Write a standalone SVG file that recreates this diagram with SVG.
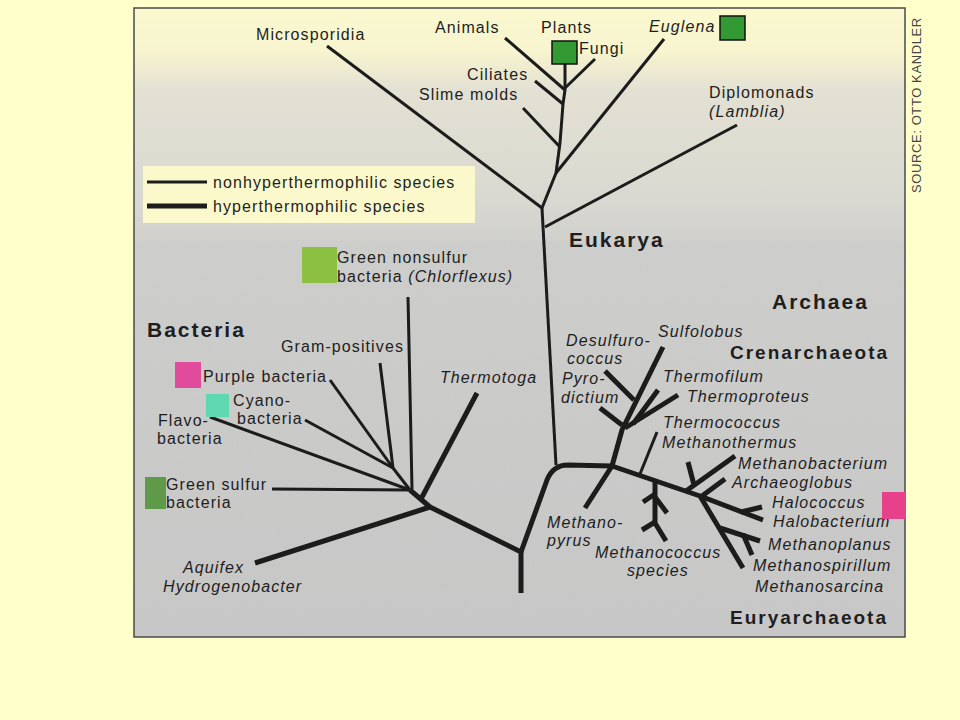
<svg xmlns="http://www.w3.org/2000/svg" width="960" height="720" viewBox="0 0 960 720">
<style>
.t{font-family:"Liberation Sans",Arial,Helvetica,sans-serif;font-size:16px;letter-spacing:1.1px;fill:#1e1e1e}
.i{font-style:italic}
.b{font-weight:bold;font-size:21px;letter-spacing:2px}
.bs{font-size:19px}
.src{font-size:13px;letter-spacing:0.6px;fill:#444}
.thin{stroke:#1c1c1c;stroke-width:3;fill:none;stroke-linejoin:round}
.thick{stroke:#1c1c1c;stroke-width:5;fill:none;stroke-linejoin:round}
</style>
<defs>
<linearGradient id="bg" x1="0" y1="8" x2="0" y2="637" gradientUnits="userSpaceOnUse">
<stop offset="0" stop-color="#fbf9cf"/>
<stop offset="0.07" stop-color="#f7f4cf"/>
<stop offset="0.13" stop-color="#e3e1d3"/>
<stop offset="0.3" stop-color="#dad9d1"/>
<stop offset="0.38" stop-color="#cfcfcd"/>
<stop offset="1" stop-color="#c8c8c8"/>
</linearGradient>
<filter id="noise" x="0" y="0" width="100%" height="100%">
<feTurbulence type="fractalNoise" baseFrequency="0.9" numOctaves="2" seed="3"/>
<feColorMatrix type="matrix" values="0 0 0 0 0.5  0 0 0 0 0.5  0 0 0 0 0.5  0 0 0 0.5 0"/>
</filter>
</defs>
<rect x="0" y="0" width="960" height="720" fill="#ffffcc"/>
<rect x="134" y="8" width="771" height="629" fill="url(#bg)"/>
<rect x="134" y="240" width="771" height="397" filter="url(#noise)" opacity="0.35"/>
<rect x="143" y="166" width="332" height="57" fill="#fbf9cc"/>
<rect x="134" y="8" width="771" height="629" fill="none" stroke="#4a4a4a" stroke-width="1.5"/>
<text class="t src" transform="translate(921,193) rotate(-90)">SOURCE: OTTO KANDLER</text>

<g id="legend">
<line class="thin" x1="147" y1="182" x2="207" y2="182" stroke-width="2.5"/>
<text class="t" x="213" y="188">nonhyperthermophilic species</text>
<line class="thick" x1="147" y1="206" x2="207" y2="206"/>
<text class="t" x="213" y="212">hyperthermophilic species</text>
</g>

<g id="connectors">
<path class="thin" d="M556,465 L542,208"/>
<path class="thin" d="M542,208 L556,173 L560,143 L563,104 L565,90 L565,62"/>
<path class="thin" d="M327,46 L542,208"/>
<path class="thin" d="M737,125 L545,227"/>
<path class="thin" d="M664,39 L556,173"/>
<path class="thin" d="M523,108 L559,146"/>
<path class="thin" d="M535,81 L563,104"/>
<path class="thin" d="M505,38 L565,90"/>
<path class="thin" d="M595,59 L565,88"/>

<path class="thin" d="M408,297 L412,489"/>
<path class="thin" d="M380,363 L393,468"/>
<path class="thin" d="M330,380 L393,468"/>
<path class="thin" d="M305,420 L393,468"/>
<path class="thin" d="M210,417 L410,490"/>
<path class="thin" d="M393,468 L410,490"/>
<path class="thin" d="M272,489 L410,490"/>
<path class="thick" d="M410,490 L430,507"/>
<path class="thick" d="M477,393 L421,499"/>
<path class="thick" d="M255,563 L430,507"/>
<path class="thick" d="M430,507 L521,552 L521,593"/>
<path class="thick" d="M521,552 L547,480 Q553,465 568,465 L612,466"/>

<path class="thick" d="M612,466 L622,430 L663,347"/>
<path class="thick" d="M605,371 L634,400"/>
<path class="thick" d="M600,408 L622,425"/>
<path class="thick" d="M658,390 L633,424"/>
<path class="thick" d="M678,395 L625,428"/>
<path class="thick" d="M585,508 L612,466"/>
<path class="thin" d="M657,432 L640,474"/>
<path class="thick" d="M612,466 L700,496 L763,520"/>
<path class="thick" d="M741,512 L762,507"/>
<path class="thick" d="M735,456 L686,491"/>
<path class="thick" d="M688,462 L694,485"/>
<path class="thick" d="M725,479 L702,496"/>
<path class="thick" d="M655,481 L655,523 L666,541"/>
<path class="thick" d="M643,502 L655,494"/>
<path class="thick" d="M655,497 L667,513"/>
<path class="thick" d="M642,530 L655,522"/>
<path class="thick" d="M700,496 L743,568"/>
<path class="thick" d="M720,528 L760,541"/>
<path class="thick" d="M743,534 L752,555"/>
</g>

<g id="microsporidia"><text class="t" x="256" y="40">Microsporidia</text></g>
<g id="animals"><text class="t" x="435" y="33">Animals</text></g>
<g id="plants"><text class="t" x="541" y="33">Plants</text><rect x="552" y="41" width="25" height="23" fill="#339933" stroke="#111" stroke-width="1.5"/></g>
<g id="fungi"><text class="t" x="579" y="54">Fungi</text></g>
<g id="euglena"><text class="t i" x="649" y="32">Euglena</text><rect x="720" y="16" width="25" height="24" fill="#339933" stroke="#111" stroke-width="1.5"/></g>
<g id="ciliates"><text class="t" x="467" y="80">Ciliates</text></g>
<g id="slime-molds"><text class="t" x="419" y="100">Slime molds</text></g>
<g id="diplomonads"><text class="t" x="709" y="98">Diplomonads</text><text class="t i" x="709" y="117">(Lamblia)</text></g>
<g id="eukarya"><text class="t b" x="569" y="247">Eukarya</text></g>

<g id="green-nonsulfur"><rect x="302" y="247" width="35" height="36" fill="#8cc043"/><text class="t" x="337" y="263">Green nonsulfur</text><text class="t" x="337" y="282">bacteria <tspan class="i">(Chlorflexus)</tspan></text></g>
<g id="bacteria"><text class="t b" x="147" y="337">Bacteria</text></g>
<g id="gram-positives"><text class="t" x="281" y="352">Gram-positives</text></g>
<g id="purple-bacteria"><rect x="175" y="362" width="26" height="26" fill="#e04b9c"/><text class="t" x="203" y="382">Purple bacteria</text></g>
<g id="cyanobacteria"><rect x="206" y="394" width="23" height="23" fill="#5ed8b0"/><text class="t" x="233" y="406">Cyano-</text><text class="t" x="237" y="424">bacteria</text></g>
<g id="flavobacteria"><text class="t" x="158" y="426">Flavo-</text><text class="t" x="157" y="444">bacteria</text></g>
<g id="thermotoga"><text class="t i" x="440" y="383">Thermotoga</text></g>
<g id="green-sulfur"><rect x="145" y="477" width="21" height="32" fill="#5e9a48"/><text class="t" x="166" y="490">Green sulfur</text><text class="t" x="166" y="508">bacteria</text></g>
<g id="aquifex"><text class="t i" x="183" y="573">Aquifex</text><text class="t i" x="163" y="592">Hydrogenobacter</text></g>

<g id="archaea"><text class="t b" x="772" y="309">Archaea</text></g>
<g id="crenarchaeota"><text class="t b bs" x="730" y="359">Crenarchaeota</text></g>
<g id="sulfolobus"><text class="t i" x="658" y="337">Sulfolobus</text></g>
<g id="desulfurococcus"><text class="t i" x="566" y="346">Desulfuro-</text><text class="t i" x="567" y="364">coccus</text></g>
<g id="pyrodictium"><text class="t i" x="562" y="384">Pyro-</text><text class="t i" x="561" y="403">dictium</text></g>
<g id="thermofilum"><text class="t i" x="663" y="382">Thermofilum</text></g>
<g id="thermoproteus"><text class="t i" x="687" y="402">Thermoproteus</text></g>
<g id="thermococcus"><text class="t i" x="663" y="428">Thermococcus</text><text class="t i" x="662" y="448">Methanothermus</text></g>
<g id="methanobacterium"><text class="t i" x="738" y="469">Methanobacterium</text></g>
<g id="archaeoglobus"><text class="t i" x="732" y="488">Archaeoglobus</text></g>
<g id="halococcus"><text class="t i" x="772" y="508">Halococcus</text></g>
<g id="halobacterium"><text class="t i" x="773" y="527">Halobacterium</text><rect x="882" y="492" width="24" height="27" fill="#e6418a"/></g>
<g id="methanoplanus"><text class="t i" x="768" y="550">Methanoplanus</text></g>
<g id="methanospirillum"><text class="t i" x="753" y="571">Methanospirillum</text></g>
<g id="methanosarcina"><text class="t i" x="755" y="592">Methanosarcina</text></g>
<g id="euryarchaeota"><text class="t b bs" x="730" y="624">Euryarchaeota</text></g>
<g id="methanopyrus"><text class="t i" x="547" y="528">Methano-</text><text class="t i" x="547" y="546">pyrus</text></g>
<g id="methanococcus"><text class="t i" x="595" y="558">Methanococcus</text><text class="t i" x="627" y="576">species</text></g>
</svg>
